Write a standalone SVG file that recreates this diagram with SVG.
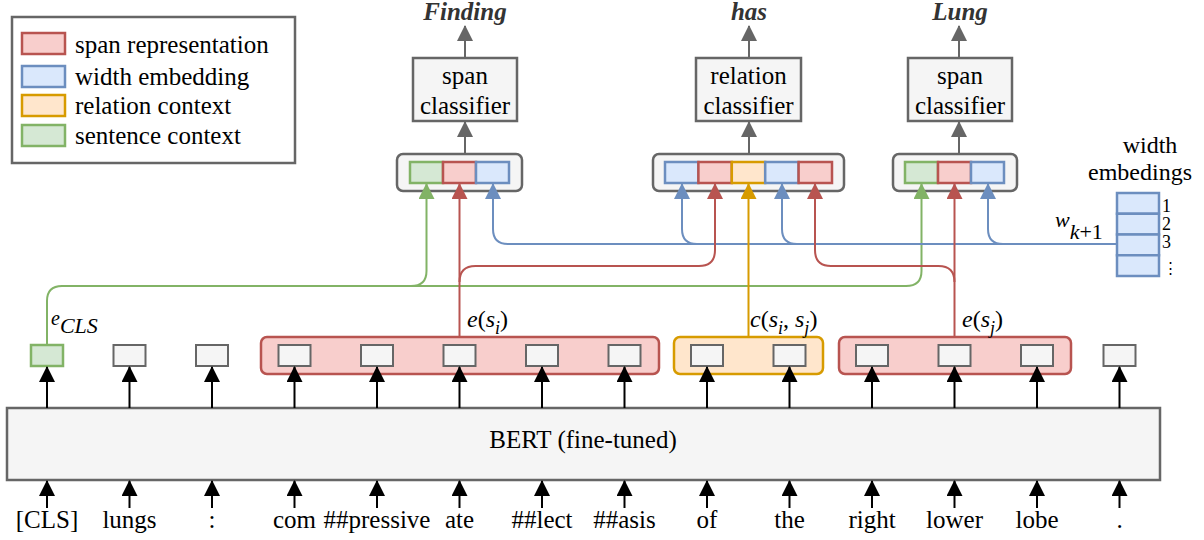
<svg xmlns="http://www.w3.org/2000/svg" width="1204" height="540" viewBox="0 0 1204 540">
<style>
text{font-family:"Liberation Serif","Times New Roman",serif;fill:#000}
.t25{font-size:25px}
.lbl{font-size:25px;font-weight:bold;font-style:italic;fill:#333}
.math{font-style:italic;font-size:24px}
.gbox{fill:#f5f5f5;stroke:#666;stroke-width:2.5}
.tok{fill:#f5f5f5;stroke:#666;stroke-width:2}
.red{fill:#f8cecc;stroke:#b85450;stroke-width:2.5}
.blue{fill:#dae8fc;stroke:#6c8ebf;stroke-width:2.5}
.org{fill:#ffe6cc;stroke:#d79b00;stroke-width:2.5}
.grn{fill:#d5e8d4;stroke:#82b366;stroke-width:2.5}
.ln{fill:none;stroke-width:2}
.lk{stroke:#000}
.lg{stroke:#666}
.lr{stroke:#b85450}
.lb{stroke:#6c8ebf}
.lo{stroke:#d79b00}
.lgr{stroke:#82b366}
</style>
<defs>
<marker id="ak" markerUnits="strokeWidth" viewBox="0 0 16 16" markerWidth="8" markerHeight="8" refX="15" refY="8" orient="auto"><path d="M0,0 L16,8 L0,16 Z" fill="#000"/></marker>
<marker id="ag" markerUnits="strokeWidth" viewBox="0 0 16 16" markerWidth="8" markerHeight="8" refX="15" refY="8" orient="auto"><path d="M0,0 L16,8 L0,16 Z" fill="#666"/></marker>
<marker id="ar" markerUnits="strokeWidth" viewBox="0 0 16 16" markerWidth="8" markerHeight="8" refX="15" refY="8" orient="auto"><path d="M0,0 L16,8 L0,16 Z" fill="#b85450"/></marker>
<marker id="ab" markerUnits="strokeWidth" viewBox="0 0 16 16" markerWidth="8" markerHeight="8" refX="15" refY="8" orient="auto"><path d="M0,0 L16,8 L0,16 Z" fill="#6c8ebf"/></marker>
<marker id="ao" markerUnits="strokeWidth" viewBox="0 0 16 16" markerWidth="8" markerHeight="8" refX="15" refY="8" orient="auto"><path d="M0,0 L16,8 L0,16 Z" fill="#d79b00"/></marker>
<marker id="agr" markerUnits="strokeWidth" viewBox="0 0 16 16" markerWidth="8" markerHeight="8" refX="15" refY="8" orient="auto"><path d="M0,0 L16,8 L0,16 Z" fill="#82b366"/></marker>
</defs>
<rect width="1204" height="540" fill="#fff"/>

<g id="legend">
<rect x="12" y="17" width="283" height="146" fill="#fff" stroke="#666" stroke-width="2.5"/>
<rect x="22" y="33" width="43" height="21" class="red"/>
<text x="75" y="53" class="t25">span representation</text>
<rect x="22" y="66" width="43" height="21" class="blue"/>
<text x="75" y="85" class="t25">width embedding</text>
<rect x="22" y="95" width="43" height="21" class="org"/>
<text x="75" y="114" class="t25">relation context</text>
<rect x="22" y="125" width="43" height="21" class="grn"/>
<text x="75" y="144" class="t25">sentence context</text>
</g>

<g id="bert">
<rect x="7" y="408" width="1153" height="72" class="gbox"/>
<text x="583" y="448" class="t25" text-anchor="middle">BERT (fine-tuned)</text>
</g>

<g id="spans">
<rect x="261" y="337" width="398" height="37" rx="6" class="red"/>
<rect x="674" y="337" width="149" height="37" rx="6" class="org"/>
<rect x="839" y="337" width="232" height="37" rx="6" class="red"/>
</g>

<g id="token-outputs">
<rect x="31" y="345" width="32" height="21" class="grn" stroke-width="2"/>
<rect x="113.5" y="345" width="32" height="21" class="tok"/>
<rect x="196" y="345" width="32" height="21" class="tok"/>
<rect x="278.5" y="345" width="32" height="21" class="tok"/>
<rect x="361" y="345" width="32" height="21" class="tok"/>
<rect x="443.5" y="345" width="32" height="21" class="tok"/>
<rect x="526" y="345" width="32" height="21" class="tok"/>
<rect x="608.5" y="345" width="32" height="21" class="tok"/>
<rect x="691" y="345" width="32" height="21" class="tok"/>
<rect x="773.5" y="345" width="32" height="21" class="tok"/>
<rect x="856" y="345" width="32" height="21" class="tok"/>
<rect x="938.5" y="345" width="32" height="21" class="tok"/>
<rect x="1021" y="345" width="32" height="21" class="tok"/>
<rect x="1103.5" y="345" width="32" height="21" class="tok"/>
</g>

<g id="tokens" class="t25" text-anchor="middle">
<text x="47" y="528">[CLS]</text>
<text x="129.5" y="528">lungs</text>
<text x="212" y="528">:</text>
<text x="294.5" y="528">com</text>
<text x="377" y="528">##pressive</text>
<text x="459.5" y="528">ate</text>
<text x="542" y="528">##lect</text>
<text x="624.5" y="528">##asis</text>
<text x="707" y="528">of</text>
<text x="789.5" y="528">the</text>
<text x="872" y="528">right</text>
<text x="954.5" y="528">lower</text>
<text x="1037" y="528">lobe</text>
<text x="1119.5" y="528">.</text>
</g>

<g id="concat1">
<rect x="397" y="154" width="125" height="37" rx="6" class="gbox"/>
<rect x="410" y="162" width="33" height="21" class="grn"/>
<rect x="443" y="162" width="33" height="21" class="red"/>
<rect x="476" y="162" width="33" height="21" class="blue"/>
</g>
<g id="concat2">
<rect x="653" y="154" width="191" height="37" rx="6" class="gbox"/>
<rect x="665" y="162" width="33.4" height="21" class="blue"/>
<rect x="698.4" y="162" width="33.4" height="21" class="red"/>
<rect x="731.8" y="162" width="33.4" height="21" class="org"/>
<rect x="765.2" y="162" width="33.4" height="21" class="blue"/>
<rect x="798.6" y="162" width="33.4" height="21" class="red"/>
</g>
<g id="concat3">
<rect x="893" y="154" width="124" height="37" rx="6" class="gbox"/>
<rect x="905" y="162" width="33" height="21" class="grn"/>
<rect x="938" y="162" width="33" height="21" class="red"/>
<rect x="971" y="162" width="33" height="21" class="blue"/>
</g>

<g id="classifier1">
<rect x="413" y="58" width="104" height="63" class="gbox"/>
<text x="465" y="84" class="t25" text-anchor="middle">span</text>
<text x="465" y="114" class="t25" text-anchor="middle">classifier</text>
<text x="465" y="20" class="lbl" text-anchor="middle">Finding</text>
</g>
<g id="classifier2">
<rect x="696" y="58" width="105" height="63" class="gbox"/>
<text x="748.5" y="84" class="t25" text-anchor="middle">relation</text>
<text x="748.5" y="114" class="t25" text-anchor="middle">classifier</text>
<text x="749" y="20" class="lbl" text-anchor="middle">has</text>
</g>
<g id="classifier3">
<rect x="908" y="58" width="104" height="63" class="gbox"/>
<text x="960" y="84" class="t25" text-anchor="middle">span</text>
<text x="960" y="114" class="t25" text-anchor="middle">classifier</text>
<text x="960" y="20" class="lbl" text-anchor="middle">Lung</text>
</g>

<g id="width-embeddings">
<text x="1150" y="153" text-anchor="middle" style="font-size:24px">width</text>
<text x="1140" y="180" text-anchor="middle" style="font-size:24px">embedings</text>
<rect x="1117" y="193" width="42" height="20.75" class="blue"/>
<rect x="1117" y="213.75" width="42" height="20.75" class="blue"/>
<rect x="1117" y="234.5" width="42" height="20.75" class="blue"/>
<rect x="1117" y="255.25" width="42" height="20.75" class="blue"/>
<text x="1162" y="212" style="font-size:18px">1</text>
<text x="1162" y="230" style="font-size:18px">2</text>
<text x="1162" y="248" style="font-size:18px">3</text>
<text x="1163" y="273" style="font-size:15px">⋮</text>
</g>

<g id="labels">
<text x="51" y="325" class="math" style="font-size:20px">e<tspan y="333" style="font-size:22px">CLS</tspan></text>
<text x="467" y="327" class="math">e<tspan font-style="normal">(</tspan>s<tspan y="334" style="font-size:18px">i</tspan><tspan y="327" font-style="normal">)</tspan></text>
<text x="750" y="327" class="math">c<tspan font-style="normal">(</tspan>s<tspan y="334" style="font-size:18px">i</tspan><tspan y="327" font-style="normal">, </tspan>s<tspan y="334" style="font-size:18px">j</tspan><tspan y="327" font-style="normal">)</tspan></text>
<text x="962" y="327" class="math">e<tspan font-style="normal">(</tspan>s<tspan y="334" style="font-size:18px">j</tspan><tspan y="327" font-style="normal">)</tspan></text>
<text x="1055" y="227" class="math" style="font-size:22px">w<tspan y="239">k</tspan><tspan font-style="normal">+1</tspan></text>
</g>

<g id="connectors">
<g class="ln lk">
<path d="M47,408 V367" marker-end="url(#ak)"/>
<path d="M129.5,408 V367" marker-end="url(#ak)"/>
<path d="M212,408 V367" marker-end="url(#ak)"/>
<path d="M294.5,408 V367" marker-end="url(#ak)"/>
<path d="M377,408 V367" marker-end="url(#ak)"/>
<path d="M459.5,408 V367" marker-end="url(#ak)"/>
<path d="M542,408 V367" marker-end="url(#ak)"/>
<path d="M624.5,408 V367" marker-end="url(#ak)"/>
<path d="M707,408 V367" marker-end="url(#ak)"/>
<path d="M789.5,408 V367" marker-end="url(#ak)"/>
<path d="M872,408 V367" marker-end="url(#ak)"/>
<path d="M954.5,408 V367" marker-end="url(#ak)"/>
<path d="M1037,408 V367" marker-end="url(#ak)"/>
<path d="M1119.5,408 V367" marker-end="url(#ak)"/>
<path d="M47,508 V481" marker-end="url(#ak)"/>
<path d="M129.5,508 V481" marker-end="url(#ak)"/>
<path d="M212,508 V481" marker-end="url(#ak)"/>
<path d="M294.5,508 V481" marker-end="url(#ak)"/>
<path d="M377,508 V481" marker-end="url(#ak)"/>
<path d="M459.5,508 V481" marker-end="url(#ak)"/>
<path d="M542,508 V481" marker-end="url(#ak)"/>
<path d="M624.5,508 V481" marker-end="url(#ak)"/>
<path d="M707,508 V481" marker-end="url(#ak)"/>
<path d="M789.5,508 V481" marker-end="url(#ak)"/>
<path d="M872,508 V481" marker-end="url(#ak)"/>
<path d="M954.5,508 V481" marker-end="url(#ak)"/>
<path d="M1037,508 V481" marker-end="url(#ak)"/>
<path d="M1119.5,508 V481" marker-end="url(#ak)"/>
</g>
<g class="ln lg">
<path d="M465,154 V122" marker-end="url(#ag)"/>
<path d="M749,154 V122" marker-end="url(#ag)"/>
<path d="M959,154 V122" marker-end="url(#ag)"/>
<path d="M465,58 V26" marker-end="url(#ag)"/>
<path d="M749,58 V26" marker-end="url(#ag)"/>
<path d="M959,58 V26" marker-end="url(#ag)"/>
</g>
<g class="ln lgr">
<path d="M47,345 V301 Q47,286 62,286 H906 Q921.5,286 921.5,271 V184" marker-end="url(#agr)"/>
<path d="M411,286 Q426.5,286 426.5,271 V184" marker-end="url(#agr)"/>
</g>
<g class="ln lb">
<path d="M1117,244 H508 Q493,244 493,229 V184" marker-end="url(#ab)"/>
<path d="M697,244 Q682,244 682,229 V184" marker-end="url(#ab)"/>
<path d="M797,244 Q782,244 782,229 V184" marker-end="url(#ab)"/>
<path d="M1003,244 Q988,244 988,229 V184" marker-end="url(#ab)"/>
</g>
<g class="ln lr">
<path d="M459.5,337 V184" marker-end="url(#ar)"/>
<path d="M459.5,282 Q459.5,266 475.5,266 H699 Q715,266 715,250 V184" marker-end="url(#ar)"/>
<path d="M954.5,337 V184" marker-end="url(#ar)"/>
<path d="M954.5,282 Q954.5,266 938.5,266 H831 Q815,266 815,250 V184" marker-end="url(#ar)"/>
</g>
<g class="ln lo">
<path d="M748.5,337 V184" marker-end="url(#ao)"/>
</g>
</g>
</svg>
